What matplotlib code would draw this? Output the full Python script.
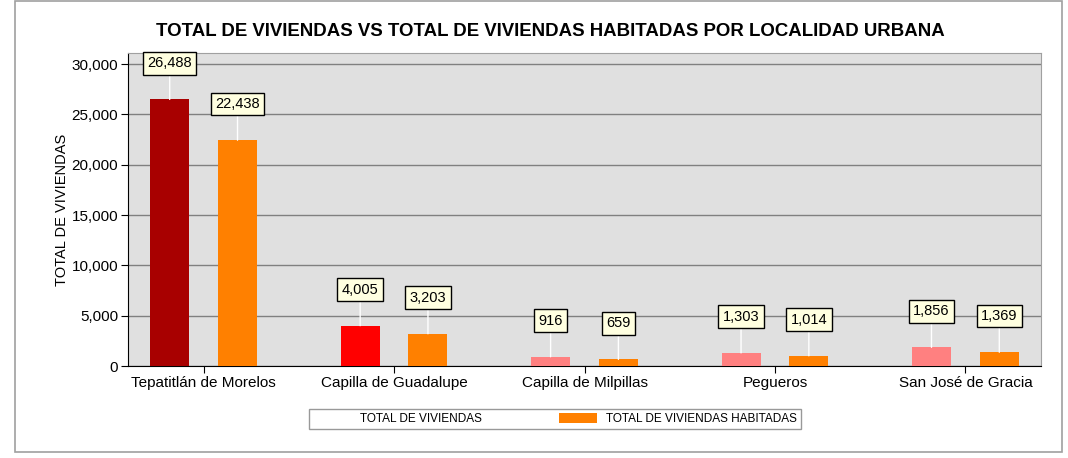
import matplotlib.pyplot as plt
from matplotlib.patches import Patch, Rectangle
import numpy as np

plt.rcParams['font.family'] = ['Liberation Sans', 'DejaVu Sans']

localidades = ["Tepatitlán de Morelos", "Capilla de Guadalupe", "Capilla de Milpillas",
               "Pegueros", "San José de Gracia"]
total_viviendas = [26488, 4005, 916, 1303, 1856]
viviendas_habitadas = [22438, 3203, 659, 1014, 1369]

# colores por punto (la primera serie cambia de color)
colores_total = ['#A80000', '#FF0000', '#FF8080', '#FF8080', '#FF8080']
color_habitadas = '#FF8000'

fig = plt.figure(figsize=(10.68, 4.58), dpi=100)
# marco exterior
fig.patches.append(Rectangle((15 / 1068, 1 - 452 / 458), 1047 / 1068, 451 / 458,
                             transform=fig.transFigure, fill=False,
                             edgecolor='#A0A0A0', linewidth=1.2))

ax = fig.add_axes([128 / 1068, 1 - 366 / 458, 913 / 1068, 313 / 458])
ax.set_facecolor('#E0E0E0')

x = np.arange(len(localidades))
width = 0.205
off = 0.178

ax.bar(x - off, total_viviendas, width, color=colores_total, zorder=3)
ax.bar(x + off, viviendas_habitadas, width, color=color_habitadas, zorder=3)

def etiqueta(xp, val):
    ax.annotate(f"{val:,}", xy=(xp, val), xytext=(0, 26), textcoords='offset points',
                ha='center', va='center', fontsize=10.5,
                bbox=dict(boxstyle='square,pad=0.3', facecolor='#FFFFE0', edgecolor='black', linewidth=1),
                arrowprops=dict(arrowstyle='-', color='white', linewidth=1, shrinkA=0, shrinkB=0),
                zorder=5)

for i in range(len(localidades)):
    etiqueta(x[i] - off, total_viviendas[i])
    etiqueta(x[i] + off, viviendas_habitadas[i])

ax.set_xlim(-0.397, 4.397)
ax.set_ylim(0, 31100)
ax.set_yticks(np.arange(0, 30001, 5000))
ax.set_yticklabels([f"{v:,}" for v in range(0, 30001, 5000)], fontsize=11)
ax.set_xticks(x)
ax.set_xticklabels(localidades, fontsize=11)
ax.tick_params(axis='both', length=5, color='black', pad=2)
ax.grid(axis='y', color='#808080', linewidth=1, zorder=1)
ax.set_axisbelow(True)

for s in ['top', 'right']:
    ax.spines[s].set_color('#A0A0A0')
for s in ['left', 'bottom']:
    ax.spines[s].set_color('black')

ax.set_ylabel("TOTAL DE VIVIENDAS", fontsize=10.5, labelpad=2)

fig.text(550 / 1068, 1 - 32 / 458, "TOTAL DE VIVIENDAS VS TOTAL DE VIVIENDAS HABITADAS POR LOCALIDAD URBANA",
         ha='center', va='center', fontsize=13.4, fontweight='bold')

handles = [Patch(facecolor='white', edgecolor='white', label='TOTAL DE VIVIENDAS'),
           Patch(facecolor=color_habitadas, label='TOTAL DE VIVIENDAS HABITADAS')]
leg = fig.legend(handles=handles, loc='center', bbox_to_anchor=(555 / 1068, 1 - 419 / 458),
                 ncol=2, fontsize=8.5, frameon=True, fancybox=False, edgecolor='#808080',
                 handlelength=3.2, handleheight=1, columnspacing=6.5, borderpad=0.3)
leg.get_frame().set_linewidth(1)

fig.savefig("out.png", dpi=100)
